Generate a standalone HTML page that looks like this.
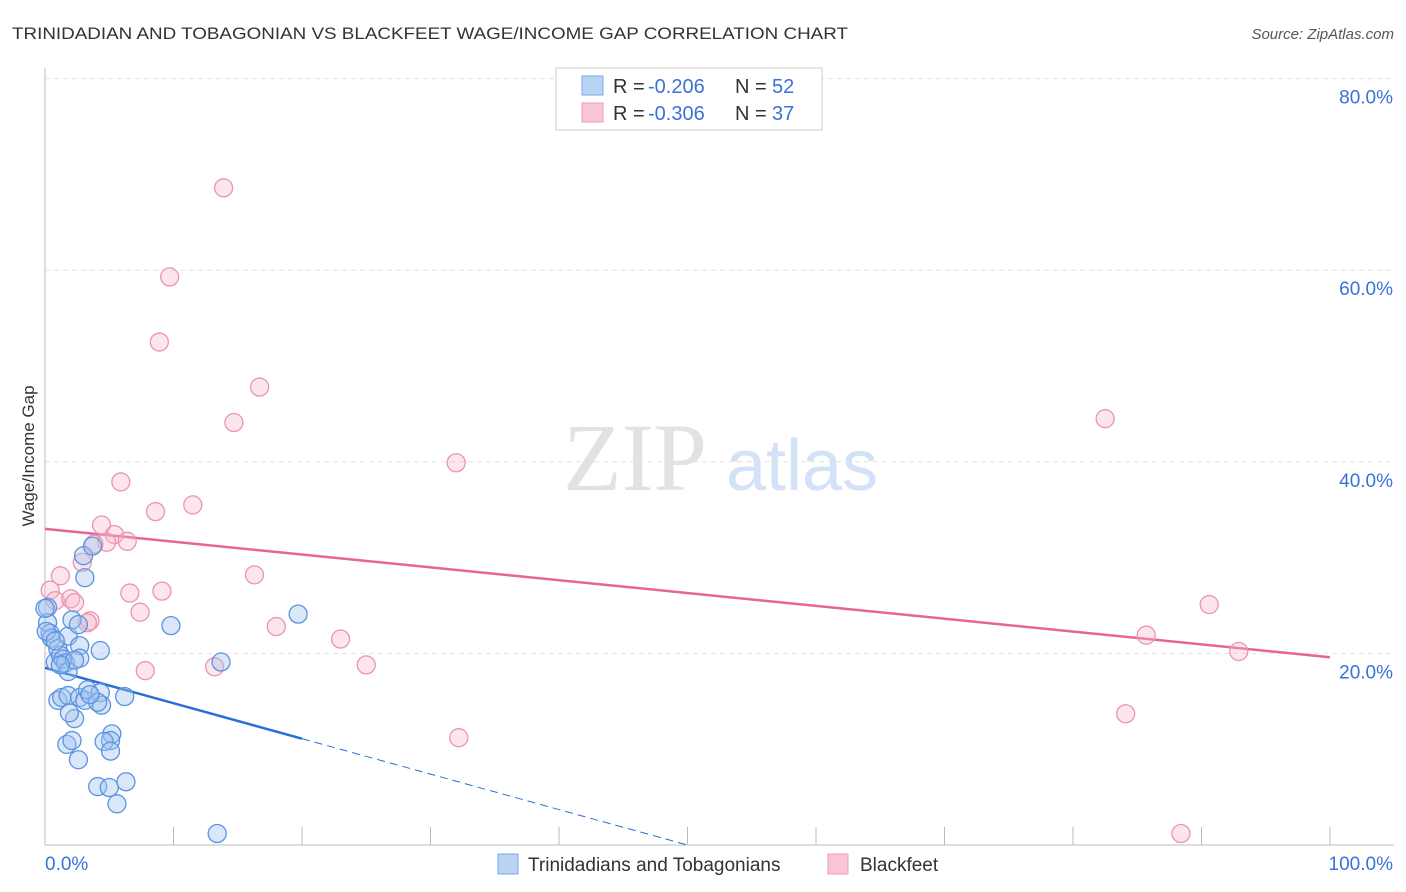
<!DOCTYPE html>
<html><head><meta charset="utf-8"><style>
body{margin:0;background:#fff;font-family:"Liberation Sans",sans-serif}
svg{display:block}
</style></head><body>
<svg id="chart" width="1406" height="892" xmlns="http://www.w3.org/2000/svg">
<text x="12" y="39" font-size="17" fill="#333" textLength="836" lengthAdjust="spacingAndGlyphs">TRINIDADIAN AND TOBAGONIAN VS BLACKFEET WAGE/INCOME GAP CORRELATION CHART</text>
<text x="1394" y="39" font-size="15" fill="#555" font-style="italic" text-anchor="end">Source: ZipAtlas.com</text>
<text x="34" y="456" font-size="17" fill="#333" text-anchor="middle" transform="rotate(-90 34 456)">Wage/Income Gap</text>
<g>
<text x="635" y="490" font-size="96" fill="#e2e2e2" font-family="Liberation Serif,serif" text-anchor="middle">ZIP</text>
<text x="802" y="490" font-size="72" fill="#d3e2f6" text-anchor="middle">atlas</text>
</g>
<g id="grid"></g><g id="axes"></g><g id="lines"></g><g id="pts"></g>
<g>
<rect x="556" y="68" width="266" height="62" fill="#fff" stroke="#ccc"/>
<rect x="582" y="76" width="21" height="19" fill="#b9d3f5" stroke="#7aa8e6"/>
<text x="613" y="93" font-size="20" fill="#333">R =</text>
<text x="648" y="93" font-size="20" fill="#3a72d8">-0.206</text>
<text x="735" y="93" font-size="20" fill="#333">N =</text>
<text x="772" y="93" font-size="20" fill="#3a72d8">52</text>
<rect x="582" y="103" width="21" height="19" fill="#f9c6d5" stroke="#ee9ab3"/>
<text x="613" y="120" font-size="20" fill="#333">R =</text>
<text x="648" y="120" font-size="20" fill="#3a72d8">-0.306</text>
<text x="735" y="120" font-size="20" fill="#333">N =</text>
<text x="772" y="120" font-size="20" fill="#3a72d8">37</text>
</g>
<g>
<rect x="498" y="854" width="20" height="20" fill="#b9d3f5" stroke="#7aa8e6"/>
<text x="528" y="871" font-size="19" fill="#333">Trinidadians and Tobagonians</text>
<rect x="828" y="854" width="20" height="20" fill="#f9c6d5" stroke="#ee9ab3"/>
<text x="860" y="871" font-size="19" fill="#333">Blackfeet</text>
</g>
</svg>
<script>
const yTicks=[20,40,60,80];
const yTickLabels=["20.0%","40.0%","60.0%","80.0%"];
const xTickLabels=["0.0%","100.0%"];
const blueX=[0.2,0.2,0.4,0.5,0.8,1,1.2,1.4,1.6,1.8,1.8,2.1,2.6,2.7,2.7,2.3,3,3.1,3.7,1,1.3,1.8,2.3,1.9,2.7,3.1,3.3,4.3,4.4,4.1,5.2,5.1,4.6,5.1,1.7,2.1,2.6,4.1,5,6.3,5.6,6.2,4.3,9.8,13.7,19.7,13.4,0,0.1,0.8,1.2,3.5];
const blueY=[24.8,23.2,22.1,21.6,19.1,20.5,19.8,19.4,19,18.1,21.8,23.5,23,20.8,19.5,19.3,30.2,27.9,31.2,15.1,15.4,15.6,13.2,13.8,15.4,15.1,16.2,15.9,14.6,14.9,11.6,10.9,10.8,9.8,10.5,10.9,8.9,6.1,6,6.6,4.3,15.5,20.3,22.9,19.1,24.1,1.2,24.7,22.3,21.3,18.8,15.7];
const pinkX=[13.9,9.7,8.9,16.7,14.7,32,82.5,5.9,8.6,11.5,4.4,5.4,6.4,4.8,3.8,2.9,1.2,0.4,0.8,2,2.3,3.5,3.3,6.6,9.1,7.4,16.3,18,23,25,13.2,7.8,32.2,85.7,90.6,92.9,84.1,88.4];
const pinkY=[68.6,59.3,52.5,47.8,44.1,39.9,44.5,37.9,34.8,35.5,33.4,32.4,31.7,31.6,31.4,29.5,28.1,26.6,25.5,25.7,25.3,23.4,23.2,26.3,26.5,24.3,28.2,22.8,21.5,18.8,18.6,18.2,11.2,21.9,25.1,20.2,13.7,1.2];
const pinkTrend=[33.0,19.6];
const blueTrend=[18.5,11.1];
function sx(v){return 45+v*12.85;}
function sy(v){return 845-v*9.58;}
const NS="http://www.w3.org/2000/svg";
function mk(tag,attrs,parent){const e=document.createElementNS(NS,tag);for(const k in attrs)e.setAttribute(k,attrs[k]);document.getElementById(parent).appendChild(e);return e;}
yTicks.forEach((t,i)=>{
 const g=mk('line',{x1:45,x2:1394,y1:sy(t),y2:sy(t),stroke:'#e2e2e2','stroke-dasharray':'5,4'},'grid');
 
 
 const l=mk('text',{x:1393,y:sy(t)+25,'font-size':19,fill:'#3a72d8','text-anchor':'end'},'grid');
 l.textContent=yTickLabels[i];
 
 
});
const ax=mk('line',{x1:45,x2:45,y1:68,y2:845,stroke:'#bbb'},'axes');


const bx=mk('line',{x1:45,x2:1394,y1:845,y2:845,stroke:'#bbb'},'axes');


for(let i=1;i<=10;i++){const t=mk('line',{x1:sx(i*10),x2:sx(i*10),y1:827,y2:845,stroke:'#bbb'},'axes');
 
 }
[[0,'start',45],[1,'end',1393]].forEach(([i,a,x])=>{const t=mk('text',{x:x,y:870,'font-size':19,fill:'#3a72d8','text-anchor':a},'axes');t.textContent=xTickLabels[i];
 
 });
const pl=mk('line',{x1:sx(0),y1:sy(pinkTrend[0]),x2:sx(100),y2:sy(pinkTrend[1]),stroke:'#e8668e','stroke-width':2.5},'lines');


const bl=mk('line',{x1:sx(0),y1:sy(blueTrend[0]),x2:sx(20),y2:sy(blueTrend[1]),stroke:'#2a6fd6','stroke-width':2.5},'lines');


const slope=(blueTrend[1]-blueTrend[0])/20;const xz=-blueTrend[0]/slope;
const bd=mk('line',{x1:sx(20),y1:sy(blueTrend[1]),x2:sx(xz),y2:sy(0),stroke:'#2a6fd6','stroke-width':1,'stroke-dasharray':'8,5'},'lines');


pinkX.forEach((x,i)=>{const c=mk('circle',{cx:sx(x),cy:sy(pinkY[i]),r:9,fill:'rgba(247,180,200,0.35)',stroke:'#eb94b0','stroke-width':1.3},'pts');
 
 });
blueX.forEach((x,i)=>{const c=mk('circle',{cx:sx(x),cy:sy(blueY[i]),r:9,fill:'rgba(160,195,240,0.4)',stroke:'#5b93e0','stroke-width':1.3},'pts');
 
 });
</script>
</body></html>
